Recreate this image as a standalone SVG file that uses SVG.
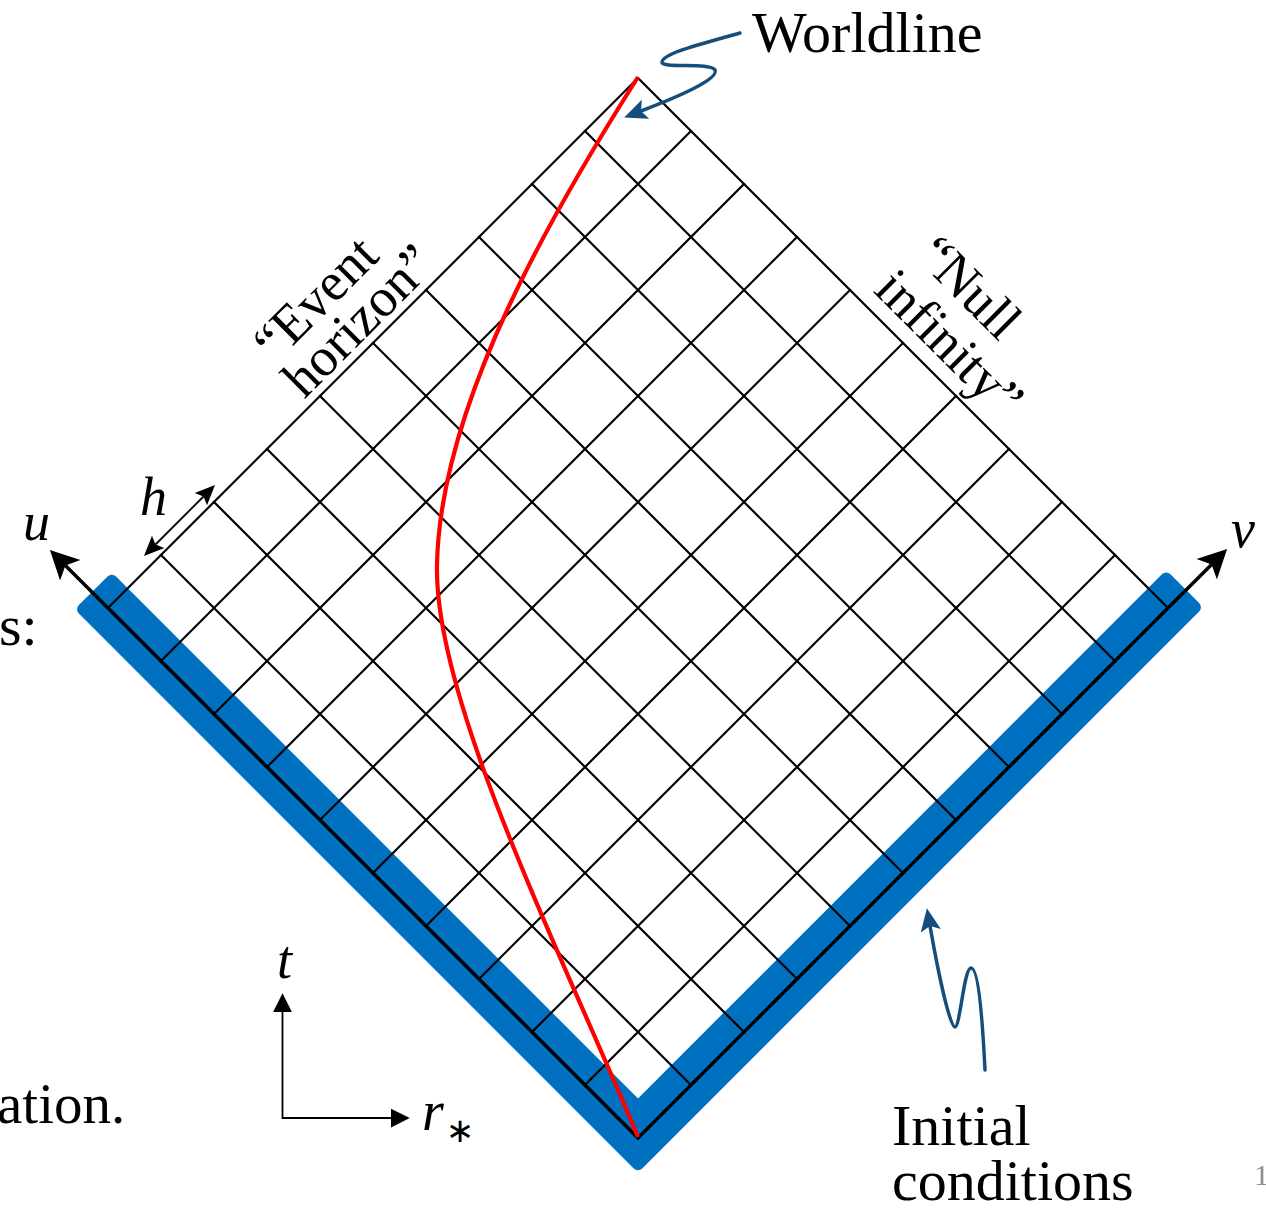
<svg xmlns="http://www.w3.org/2000/svg" width="1266" height="1208" viewBox="0 0 1266 1208">
<style>
.txt{font-family:"Liberation Serif","Times New Roman",serif;fill:#000}
.math{font-family:"Liberation Serif","Times New Roman",serif;font-style:italic;fill:#000}
.grid{fill:none;stroke:#000;stroke-width:2.2;stroke-linecap:square}
.axis{fill:none;stroke:#000;stroke-width:3.5;stroke-linejoin:miter}
.thin{fill:none;stroke:#000;stroke-width:1.8}
.callout{fill:none;stroke:#154E7C;stroke-width:3.5;stroke-linecap:round}
</style>
<defs>
<marker id="bigArrow" markerUnits="userSpaceOnUse" markerWidth="30" markerHeight="30" viewBox="0 -13 26 26" refX="6" refY="0" orient="auto-start-reverse">
<path d="M25,0 L0,-12.5 L6,0 L0,12.5 Z" fill="#000"/>
</marker>
<marker id="smallArrow" markerUnits="userSpaceOnUse" markerWidth="20" markerHeight="20" viewBox="0 -8 16 16" refX="3" refY="0" orient="auto-start-reverse">
<path d="M16,0 L0,-7 L3,0 L0,7 Z" fill="#000"/>
</marker>
<marker id="triArrow" markerUnits="userSpaceOnUse" markerWidth="20" markerHeight="20" viewBox="0 -8 16 16" refX="0" refY="0" orient="auto-start-reverse">
<path d="M15,0 L0,-7.5 L0,7.5 Z" fill="#000"/>
</marker>
<marker id="blueArrow" markerUnits="userSpaceOnUse" markerWidth="24" markerHeight="24" viewBox="0 -10 20 20" refX="4" refY="0" orient="auto">
<path d="M19,0 L0,-8.5 L4,0 L0,8.5 Z" fill="#154E7C"/>
</marker>
</defs>
<rect width="1266" height="1208" fill="#fff"/>

<g id="initial-band">
<polygon points="83.1,609.3 111.8,580.7 638,1106.9 1166.2,578.6 1194.9,607.3 638,1164.2" fill="#0070C0" stroke="#0070C0" stroke-width="12" stroke-linejoin="round"/>
</g>

<g id="grid">
<path class="grid" d="M585,1085 L1115,555 M532,1032 L1062,502 M479,979 L1009,449 M426,926 L956,396 M373,873 L903,343 M320,820 L850,290 M267,767 L797,237 M214,714 L744,184 M161,661 L691,131
M691,1085 L161,555 M744,1032 L214,502 M797,979 L267,449 M850,926 L320,396 M903,873 L373,343 M956,820 L426,290 M1009,767 L479,237 M1062,714 L532,184 M1115,661 L585,131"/>
<path class="grid" d="M108,608 L638,78 L1168,608" stroke-linejoin="miter"/>
</g>

<g id="null-axes">
<path class="axis" d="M65.4,565.4 L638,1138 L1211.6,564.4" marker-start="url(#bigArrow)" marker-end="url(#bigArrow)"/>
<text class="math" x="23" y="540" font-size="54">u</text>
<text class="math" x="1231" y="547" font-size="54">v</text>
</g>

<g id="step-h">
<path class="thin" d="M155.5,544.5 L203.5,496.5" stroke-width="2" marker-start="url(#smallArrow)" marker-end="url(#smallArrow)"/>
<text class="math" x="140" y="515" font-size="54">h</text>
</g>

<g id="worldline">
<path d="M638,77 C560,200 440,400 437,565 C434,700 560,950 638,1137" fill="none" stroke="#FF0000" stroke-width="4.2"/>
</g>

<g id="tr-axes">
<path class="thin" d="M282.5,1012 L282.5,1118 L391,1118" marker-start="url(#triArrow)" marker-end="url(#triArrow)"/>
<text class="math" x="277" y="978" font-size="54">t</text>
<text class="math" x="422" y="1130" font-size="56">r<tspan font-style="normal" font-family="DejaVu Sans, sans-serif" font-size="34" dx="2" dy="12">∗</tspan></text>
</g>

<g id="event-horizon-label">
<text class="txt" font-size="54" text-anchor="middle" transform="translate(328,311) rotate(-45)">“Event</text>
<text class="txt" font-size="54" text-anchor="middle" transform="translate(371,333) rotate(-45)">horizon”</text>
</g>

<g id="null-infinity-label">
<text class="txt" font-size="54" text-anchor="middle" transform="translate(957,300) rotate(45)">“Null</text>
<text class="txt" font-size="54" text-anchor="middle" transform="translate(937,356) rotate(45)">infinity”</text>
</g>

<g id="worldline-label">
<text class="txt" x="752" y="52" font-size="58">Worldline</text>
</g>

<g id="initial-conditions-label">
<text class="txt" x="892" y="1145" font-size="58">Initial</text>
<text class="txt" x="892" y="1200" font-size="58">conditions</text>
</g>

<g id="slide-fragments">
<text class="txt" x="-1" y="645" font-size="58">s:</text>
<text class="txt" x="-3" y="1123" font-size="57">ation.</text>
<text class="txt" x="1254" y="1185" font-size="30" style="fill:#8c8c8c">1</text>
</g>

<g id="connectors">
<path class="callout" d="M740,33 C705,43 663,53 662,62 C661,69 710,62 715,70 C719,79 680,96 641,111" marker-end="url(#blueArrow)"/>
<path class="callout" d="M985,1070 C983,1030 979,968 971,968 C964,968 960,1027 955,1027 C949,1027 936,960 930,926" marker-end="url(#blueArrow)"/>
</g>
</svg>
